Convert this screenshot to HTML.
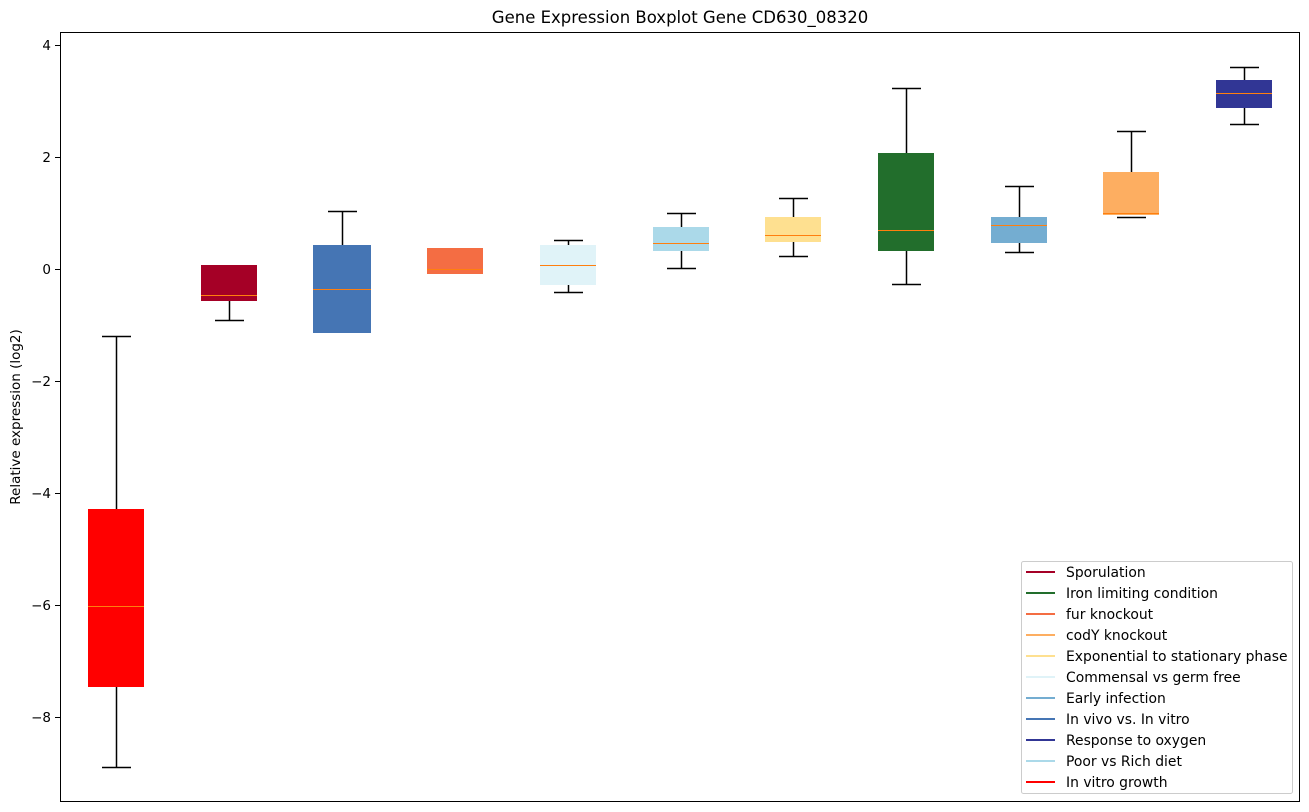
<!DOCTYPE html>
<html><head><meta charset="utf-8"><style>body{margin:0;background:#fff}svg{display:block;font-family:"DejaVu Sans","Liberation Sans",sans-serif}</style></head><body>
<svg width="1309" height="812" xmlns="http://www.w3.org/2000/svg">
<text x="680" y="23" font-size="16.5" text-anchor="middle" fill="#000">Gene Expression Boxplot Gene CD630_08320</text>
<text transform="translate(20,417) rotate(-90)" font-size="13.5" text-anchor="middle">Relative expression (log2)</text>
<g font-size="13.5" text-anchor="end">
<text x="51" y="50">4</text><text x="51" y="162">2</text><text x="51" y="274">0</text>
<text x="51" y="386">−2</text><text x="51" y="498">−4</text><text x="51" y="610">−6</text><text x="51" y="722">−8</text>
</g>
<g stroke="#000"><line x1="55" x2="60" y1="45.5" y2="45.5"/><line x1="55" x2="60" y1="157.5" y2="157.5"/><line x1="55" x2="60" y1="269.5" y2="269.5"/><line x1="55" x2="60" y1="381.5" y2="381.5"/><line x1="55" x2="60" y1="493.5" y2="493.5"/><line x1="55" x2="60" y1="605.5" y2="605.5"/><line x1="55" x2="60" y1="717.5" y2="717.5"/></g>
<g stroke="#000" stroke-width="1.5" fill="none">
<path d="M116.5 336V509M116.5 687V767M102 336.5H131M102 767.5H131"/>
<path d="M229.5 301V320M215 320.5H244"/>
<path d="M342.5 211V245M328 211.5H357"/>
<path d="M568.5 240V245M568.5 285V292M554 240.5H583M554 292.5H583"/>
<path d="M681.5 213V227M681.5 251V268M667 213.5H696M667 268.5H696"/>
<path d="M793.5 198V217M793.5 242V256M779 198.5H808M779 256.5H808"/>
<path d="M906.5 88V153M906.5 251V284M892 88.5H921M892 284.5H921"/>
<path d="M1019.5 186V217M1019.5 243V252M1005 186.5H1034M1005 252.5H1034"/>
<path d="M1131.5 131V172M1117 131.5H1146M1117 217.5H1146"/>
<path d="M1244.5 67V80M1244.5 108V124M1230 67.5H1259M1230 124.5H1259"/>
</g>
<g>
<rect x="88" y="509" width="56" height="178" fill="#ff0000"/>
<rect x="201" y="265" width="56" height="36" fill="#a50026"/>
<rect x="313" y="245" width="58" height="88" fill="#4575b4"/>
<rect x="427" y="248" width="56" height="26" fill="#f46d43"/>
<rect x="540" y="245" width="56" height="40" fill="#e0f3f8"/>
<rect x="653" y="227" width="56" height="24" fill="#abd9e9"/>
<rect x="765" y="217" width="56" height="25" fill="#fee090"/>
<rect x="878" y="153" width="56" height="98" fill="#226e2c"/>
<rect x="991" y="217" width="56" height="26" fill="#74add1"/>
<rect x="1103" y="172" width="56" height="43" fill="#fdae61"/>
<rect x="1216" y="80" width="56" height="28" fill="#313695"/>
</g>
<g stroke="#ff7f0e" stroke-width="1">
<path d="M88 606.5H144M201 295.5H257M313 289.5H371M427 269.5H483M540 265.5H596M653 243.5H709M765 235.5H821M878 230.5H934M991 225.5H1047M1103 213.5H1159M1216 93.5H1272"/>
</g>
<rect x="60.5" y="32.5" width="1239" height="769" fill="none" stroke="#000"/>
<rect x="1021.5" y="561.5" width="271" height="232" rx="2" fill="#fff" stroke="#ccc"/>
<g font-size="13.9" stroke-width="2">
<line x1="1026" x2="1055" y1="572" y2="572" stroke="#a50026"/><text x="1066" y="577">Sporulation</text>
<line x1="1026" x2="1055" y1="593" y2="593" stroke="#226e2c"/><text x="1066" y="598">Iron limiting condition</text>
<line x1="1026" x2="1055" y1="614" y2="614" stroke="#f46d43"/><text x="1066" y="619">fur knockout</text>
<line x1="1026" x2="1055" y1="635" y2="635" stroke="#fdae61"/><text x="1066" y="640">codY knockout</text>
<line x1="1026" x2="1055" y1="656" y2="656" stroke="#fee090"/><text x="1066" y="661">Exponential to stationary phase</text>
<line x1="1026" x2="1055" y1="677" y2="677" stroke="#e0f3f8"/><text x="1066" y="682">Commensal vs germ free</text>
<line x1="1026" x2="1055" y1="698" y2="698" stroke="#74add1"/><text x="1066" y="703">Early infection</text>
<line x1="1026" x2="1055" y1="719" y2="719" stroke="#4575b4"/><text x="1066" y="724">In vivo vs. In vitro</text>
<line x1="1026" x2="1055" y1="740" y2="740" stroke="#313695"/><text x="1066" y="745">Response to oxygen</text>
<line x1="1026" x2="1055" y1="761" y2="761" stroke="#abd9e9"/><text x="1066" y="766">Poor vs Rich diet</text>
<line x1="1026" x2="1055" y1="782" y2="782" stroke="#ff0000"/><text x="1066" y="787">In vitro growth</text>
</g>
</svg>
</body></html>
